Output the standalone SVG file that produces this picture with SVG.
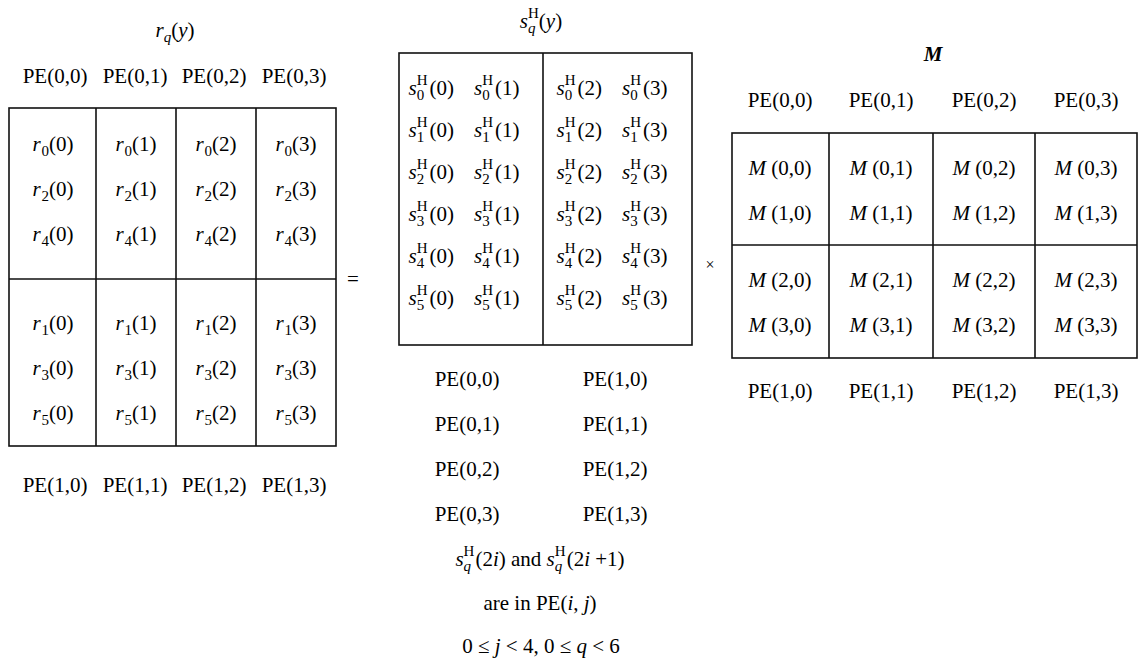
<svg xmlns="http://www.w3.org/2000/svg" width="1140" height="665" viewBox="0 0 1140 665">
<style>
.t{font-family:"Liberation Serif","Times New Roman",serif;font-size:21px;fill:#000}
.c{text-anchor:middle}
.i{font-style:italic}
.s{font-size:15px}
.r{font-size:15px}
.b{fill:none;stroke:#111;stroke-width:1.6}
</style>
<rect width="1140" height="665" fill="#fff"/>

<g id="matrix-r">
<text class="t c" x="175" y="37"><tspan class="i">r</tspan><tspan class="r i" dy="5">q</tspan><tspan dy="-5">(</tspan><tspan class="i">y</tspan>)</text>
<g class="t c">
<text x="55" y="83">PE(0,0)</text><text x="135" y="83">PE(0,1)</text><text x="214" y="83">PE(0,2)</text><text x="294" y="83">PE(0,3)</text>
<text x="55" y="492">PE(1,0)</text><text x="135" y="492">PE(1,1)</text><text x="214" y="492">PE(1,2)</text><text x="294" y="492">PE(1,3)</text>
</g>
<rect class="b" x="9" y="108" width="327" height="338"/>
<path class="b" d="M96 108V446M176 108V446M256 108V446M9 279H336"/>
<g class="t c">
<text x="53" y="151"><tspan class="i">r</tspan><tspan class="r" dx="1" dy="5">0</tspan><tspan dy="-5">(0)</tspan></text>
<text x="136" y="151"><tspan class="i">r</tspan><tspan class="r" dx="1" dy="5">0</tspan><tspan dy="-5">(1)</tspan></text>
<text x="216" y="151"><tspan class="i">r</tspan><tspan class="r" dx="1" dy="5">0</tspan><tspan dy="-5">(2)</tspan></text>
<text x="296" y="151"><tspan class="i">r</tspan><tspan class="r" dx="1" dy="5">0</tspan><tspan dy="-5">(3)</tspan></text>
<text x="53" y="196"><tspan class="i">r</tspan><tspan class="r" dx="1" dy="5">2</tspan><tspan dy="-5">(0)</tspan></text>
<text x="136" y="196"><tspan class="i">r</tspan><tspan class="r" dx="1" dy="5">2</tspan><tspan dy="-5">(1)</tspan></text>
<text x="216" y="196"><tspan class="i">r</tspan><tspan class="r" dx="1" dy="5">2</tspan><tspan dy="-5">(2)</tspan></text>
<text x="296" y="196"><tspan class="i">r</tspan><tspan class="r" dx="1" dy="5">2</tspan><tspan dy="-5">(3)</tspan></text>
<text x="53" y="241"><tspan class="i">r</tspan><tspan class="r" dx="1" dy="5">4</tspan><tspan dy="-5">(0)</tspan></text>
<text x="136" y="241"><tspan class="i">r</tspan><tspan class="r" dx="1" dy="5">4</tspan><tspan dy="-5">(1)</tspan></text>
<text x="216" y="241"><tspan class="i">r</tspan><tspan class="r" dx="1" dy="5">4</tspan><tspan dy="-5">(2)</tspan></text>
<text x="296" y="241"><tspan class="i">r</tspan><tspan class="r" dx="1" dy="5">4</tspan><tspan dy="-5">(3)</tspan></text>
<text x="53" y="330"><tspan class="i">r</tspan><tspan class="r" dx="1" dy="5">1</tspan><tspan dy="-5">(0)</tspan></text>
<text x="136" y="330"><tspan class="i">r</tspan><tspan class="r" dx="1" dy="5">1</tspan><tspan dy="-5">(1)</tspan></text>
<text x="216" y="330"><tspan class="i">r</tspan><tspan class="r" dx="1" dy="5">1</tspan><tspan dy="-5">(2)</tspan></text>
<text x="296" y="330"><tspan class="i">r</tspan><tspan class="r" dx="1" dy="5">1</tspan><tspan dy="-5">(3)</tspan></text>
<text x="53" y="375"><tspan class="i">r</tspan><tspan class="r" dx="1" dy="5">3</tspan><tspan dy="-5">(0)</tspan></text>
<text x="136" y="375"><tspan class="i">r</tspan><tspan class="r" dx="1" dy="5">3</tspan><tspan dy="-5">(1)</tspan></text>
<text x="216" y="375"><tspan class="i">r</tspan><tspan class="r" dx="1" dy="5">3</tspan><tspan dy="-5">(2)</tspan></text>
<text x="296" y="375"><tspan class="i">r</tspan><tspan class="r" dx="1" dy="5">3</tspan><tspan dy="-5">(3)</tspan></text>
<text x="53" y="420"><tspan class="i">r</tspan><tspan class="r" dx="1" dy="5">5</tspan><tspan dy="-5">(0)</tspan></text>
<text x="136" y="420"><tspan class="i">r</tspan><tspan class="r" dx="1" dy="5">5</tspan><tspan dy="-5">(1)</tspan></text>
<text x="216" y="420"><tspan class="i">r</tspan><tspan class="r" dx="1" dy="5">5</tspan><tspan dy="-5">(2)</tspan></text>
<text x="296" y="420"><tspan class="i">r</tspan><tspan class="r" dx="1" dy="5">5</tspan><tspan dy="-5">(3)</tspan></text>
</g>
</g>

<g id="equals"><text class="t c" x="353" y="286">=</text></g>

<g id="matrix-s">
<text class="t c" x="541" y="28"><tspan class="i">s</tspan><tspan class="s i" dy="5">q</tspan><tspan class="s" dx="-7.5" dy="-15">H</tspan><tspan dy="10">(</tspan><tspan class="i">y</tspan>)</text>
<rect class="b" x="399" y="53" width="293" height="292"/>
<path class="b" d="M543 53V345"/>
<g class="t c">
<text x="464" y="95"><tspan class="i">s</tspan><tspan class="s" dy="5">0</tspan><tspan class="s" dx="-7.5" dy="-15">H</tspan><tspan dx="2" dy="10">(0)</tspan><tspan class="i" dx="20">s</tspan><tspan class="s" dy="5">0</tspan><tspan class="s" dx="-7.5" dy="-15">H</tspan><tspan dx="2" dy="10">(1)</tspan></text>
<text x="612" y="95"><tspan class="i">s</tspan><tspan class="s" dy="5">0</tspan><tspan class="s" dx="-7.5" dy="-15">H</tspan><tspan dx="2" dy="10">(2)</tspan><tspan class="i" dx="20">s</tspan><tspan class="s" dy="5">0</tspan><tspan class="s" dx="-7.5" dy="-15">H</tspan><tspan dx="2" dy="10">(3)</tspan></text>
<text x="464" y="137"><tspan class="i">s</tspan><tspan class="s" dy="5">1</tspan><tspan class="s" dx="-7.5" dy="-15">H</tspan><tspan dx="2" dy="10">(0)</tspan><tspan class="i" dx="20">s</tspan><tspan class="s" dy="5">1</tspan><tspan class="s" dx="-7.5" dy="-15">H</tspan><tspan dx="2" dy="10">(1)</tspan></text>
<text x="612" y="137"><tspan class="i">s</tspan><tspan class="s" dy="5">1</tspan><tspan class="s" dx="-7.5" dy="-15">H</tspan><tspan dx="2" dy="10">(2)</tspan><tspan class="i" dx="20">s</tspan><tspan class="s" dy="5">1</tspan><tspan class="s" dx="-7.5" dy="-15">H</tspan><tspan dx="2" dy="10">(3)</tspan></text>
<text x="464" y="179"><tspan class="i">s</tspan><tspan class="s" dy="5">2</tspan><tspan class="s" dx="-7.5" dy="-15">H</tspan><tspan dx="2" dy="10">(0)</tspan><tspan class="i" dx="20">s</tspan><tspan class="s" dy="5">2</tspan><tspan class="s" dx="-7.5" dy="-15">H</tspan><tspan dx="2" dy="10">(1)</tspan></text>
<text x="612" y="179"><tspan class="i">s</tspan><tspan class="s" dy="5">2</tspan><tspan class="s" dx="-7.5" dy="-15">H</tspan><tspan dx="2" dy="10">(2)</tspan><tspan class="i" dx="20">s</tspan><tspan class="s" dy="5">2</tspan><tspan class="s" dx="-7.5" dy="-15">H</tspan><tspan dx="2" dy="10">(3)</tspan></text>
<text x="464" y="221"><tspan class="i">s</tspan><tspan class="s" dy="5">3</tspan><tspan class="s" dx="-7.5" dy="-15">H</tspan><tspan dx="2" dy="10">(0)</tspan><tspan class="i" dx="20">s</tspan><tspan class="s" dy="5">3</tspan><tspan class="s" dx="-7.5" dy="-15">H</tspan><tspan dx="2" dy="10">(1)</tspan></text>
<text x="612" y="221"><tspan class="i">s</tspan><tspan class="s" dy="5">3</tspan><tspan class="s" dx="-7.5" dy="-15">H</tspan><tspan dx="2" dy="10">(2)</tspan><tspan class="i" dx="20">s</tspan><tspan class="s" dy="5">3</tspan><tspan class="s" dx="-7.5" dy="-15">H</tspan><tspan dx="2" dy="10">(3)</tspan></text>
<text x="464" y="263"><tspan class="i">s</tspan><tspan class="s" dy="5">4</tspan><tspan class="s" dx="-7.5" dy="-15">H</tspan><tspan dx="2" dy="10">(0)</tspan><tspan class="i" dx="20">s</tspan><tspan class="s" dy="5">4</tspan><tspan class="s" dx="-7.5" dy="-15">H</tspan><tspan dx="2" dy="10">(1)</tspan></text>
<text x="612" y="263"><tspan class="i">s</tspan><tspan class="s" dy="5">4</tspan><tspan class="s" dx="-7.5" dy="-15">H</tspan><tspan dx="2" dy="10">(2)</tspan><tspan class="i" dx="20">s</tspan><tspan class="s" dy="5">4</tspan><tspan class="s" dx="-7.5" dy="-15">H</tspan><tspan dx="2" dy="10">(3)</tspan></text>
<text x="464" y="305"><tspan class="i">s</tspan><tspan class="s" dy="5">5</tspan><tspan class="s" dx="-7.5" dy="-15">H</tspan><tspan dx="2" dy="10">(0)</tspan><tspan class="i" dx="20">s</tspan><tspan class="s" dy="5">5</tspan><tspan class="s" dx="-7.5" dy="-15">H</tspan><tspan dx="2" dy="10">(1)</tspan></text>
<text x="612" y="305"><tspan class="i">s</tspan><tspan class="s" dy="5">5</tspan><tspan class="s" dx="-7.5" dy="-15">H</tspan><tspan dx="2" dy="10">(2)</tspan><tspan class="i" dx="20">s</tspan><tspan class="s" dy="5">5</tspan><tspan class="s" dx="-7.5" dy="-15">H</tspan><tspan dx="2" dy="10">(3)</tspan></text>
</g>
<g class="t c">
<text x="467" y="386">PE(0,0)</text><text x="615" y="386">PE(1,0)</text>
<text x="467" y="431">PE(0,1)</text><text x="615" y="431">PE(1,1)</text>
<text x="467" y="476">PE(0,2)</text><text x="615" y="476">PE(1,2)</text>
<text x="467" y="521">PE(0,3)</text><text x="615" y="521">PE(1,3)</text>
<text x="540" y="566"><tspan class="i">s</tspan><tspan class="s i" dy="5">q</tspan><tspan class="s" dx="-7.5" dy="-15">H</tspan><tspan dx="1" dy="10">(2</tspan><tspan class="i">i</tspan>) and <tspan class="i">s</tspan><tspan class="s i" dy="5">q</tspan><tspan class="s" dx="-7.5" dy="-15">H</tspan><tspan dx="1" dy="10">(2</tspan><tspan class="i">i</tspan> +1)</text>
<text x="540" y="610">are in PE(<tspan class="i">i</tspan>, <tspan class="i">j</tspan>)</text>
<text x="541" y="653">0 ≤ <tspan class="i">j</tspan> &lt; 4, 0 ≤ <tspan class="i">q</tspan> &lt; 6</text>
</g>
</g>

<g id="times"><text class="t c" x="710" y="270" style="font-size:16px">×</text></g>

<g id="matrix-m">
<text class="t c i" x="933" y="61" font-weight="bold">M</text>
<g class="t c">
<text x="780" y="107">PE(0,0)</text><text x="881" y="107">PE(0,1)</text><text x="984" y="107">PE(0,2)</text><text x="1086" y="107">PE(0,3)</text>
<text x="780" y="398">PE(1,0)</text><text x="881" y="398">PE(1,1)</text><text x="984" y="398">PE(1,2)</text><text x="1086" y="398">PE(1,3)</text>
</g>
<rect class="b" x="732" y="133" width="405" height="225"/>
<path class="b" d="M829 133V358M933 133V358M1035 133V358M732 245H1137"/>
<g class="t c">
<text x="780" y="175"><tspan class="i">M</tspan> (0,0)</text>
<text x="881" y="175"><tspan class="i">M</tspan> (0,1)</text>
<text x="984" y="175"><tspan class="i">M</tspan> (0,2)</text>
<text x="1086" y="175"><tspan class="i">M</tspan> (0,3)</text>
<text x="780" y="220"><tspan class="i">M</tspan> (1,0)</text>
<text x="881" y="220"><tspan class="i">M</tspan> (1,1)</text>
<text x="984" y="220"><tspan class="i">M</tspan> (1,2)</text>
<text x="1086" y="220"><tspan class="i">M</tspan> (1,3)</text>
<text x="780" y="287"><tspan class="i">M</tspan> (2,0)</text>
<text x="881" y="287"><tspan class="i">M</tspan> (2,1)</text>
<text x="984" y="287"><tspan class="i">M</tspan> (2,2)</text>
<text x="1086" y="287"><tspan class="i">M</tspan> (2,3)</text>
<text x="780" y="332"><tspan class="i">M</tspan> (3,0)</text>
<text x="881" y="332"><tspan class="i">M</tspan> (3,1)</text>
<text x="984" y="332"><tspan class="i">M</tspan> (3,2)</text>
<text x="1086" y="332"><tspan class="i">M</tspan> (3,3)</text>
</g>
</g>
</svg>
